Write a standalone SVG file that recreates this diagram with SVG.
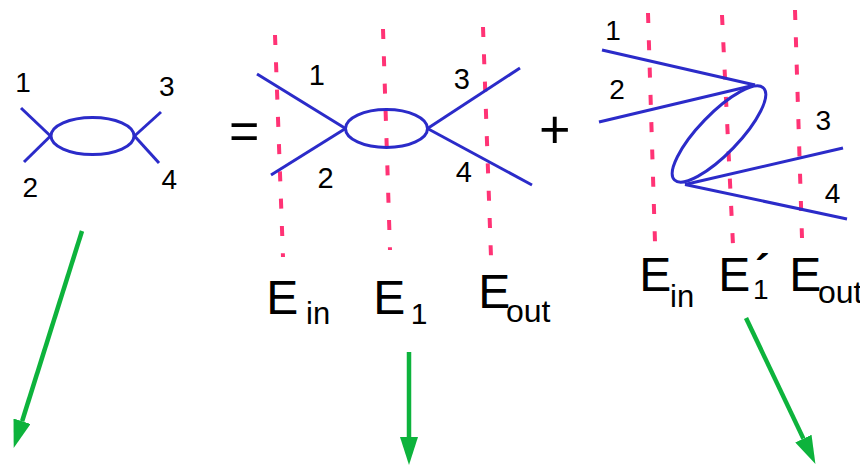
<svg xmlns="http://www.w3.org/2000/svg" width="860" height="465" viewBox="0 0 860 465">
<style>
.b{stroke:#2b2bc9;stroke-width:3;fill:none;stroke-linecap:butt}
.d{stroke:#ff3375;stroke-width:4;fill:none;stroke-dasharray:10 17.3}
.g{stroke:#0db33c;stroke-width:4.5;fill:none}
.t{font-family:"Liberation Sans",Arial,sans-serif;fill:#000}
.n{font-size:28px}
.e{font-size:48px}
.s{font-size:31px}
</style>
<defs>
<marker id="ah" markerUnits="userSpaceOnUse" markerWidth="28" markerHeight="18" refX="0" refY="9" orient="auto" viewBox="0 0 28 18">
<path d="M0,0 L28,9 L0,18 z" fill="#0db33c"/>
</marker>
</defs>
<g id="left-diagram">
<line class="b" x1="21" y1="108" x2="50.5" y2="136"/>
<line class="b" x1="24" y1="162" x2="50.5" y2="136"/>
<line class="b" x1="161" y1="112" x2="134.5" y2="136"/>
<line class="b" x1="159" y1="163" x2="134.5" y2="136"/>
<ellipse class="b" cx="92.5" cy="136" rx="41.5" ry="18.5"/>
<text class="t n" x="15.2" y="92">1</text>
<text class="t n" x="159" y="95.5">3</text>
<text class="t n" x="22.5" y="197">2</text>
<text class="t n" x="161.4" y="188.5">4</text>
</g>
<text id="equals" class="t" x="229" y="149" font-size="52">=</text>
<g id="middle-diagram">
<line class="d" x1="275" y1="35" x2="283" y2="257"/>
<line class="d" x1="383" y1="29" x2="390" y2="250"/>
<line class="d" x1="483" y1="27" x2="491" y2="257"/>
<line class="b" x1="257" y1="74" x2="345.5" y2="128.5"/>
<line class="b" x1="271" y1="175" x2="345.5" y2="128.5"/>
<line class="b" x1="520" y1="68" x2="427.5" y2="128.5"/>
<line class="b" x1="532" y1="185" x2="427.5" y2="128.5"/>
<ellipse class="b" cx="386.5" cy="128.5" rx="41" ry="19"/>
<text class="t" font-size="29" x="308.8" y="85">1</text>
<text class="t" font-size="29" x="453.8" y="89">3</text>
<text class="t" font-size="29" x="317.5" y="188.3">2</text>
<text class="t" font-size="29" x="455.7" y="182.3">4</text>
<text class="t e" x="266.2" y="314">E</text>
<text class="t s" x="306" y="324">in</text>
<text class="t e" x="373.2" y="314">E</text>
<text class="t" font-size="30" x="410.7" y="324">1</text>
<text class="t e" x="478.2" y="308">E</text>
<text class="t" font-size="32" x="506" y="322">out</text>
</g>
<text id="plus" class="t" x="539" y="148" font-size="54">+</text>
<g id="right-diagram">
<line class="d" x1="648" y1="13" x2="655" y2="242"/>
<line class="d" x1="722" y1="15" x2="733" y2="245"/>
<line class="d" x1="795" y1="10" x2="802" y2="238"/>
<line class="b" x1="602" y1="50" x2="755" y2="85"/>
<line class="b" x1="599" y1="122" x2="755" y2="85"/>
<line class="b" x1="685" y1="184.5" x2="843" y2="148"/>
<line class="b" x1="685" y1="184.5" x2="847" y2="219"/>
<ellipse class="b" cx="719" cy="134" rx="64" ry="20" transform="rotate(-46 719 134)"/>
<text class="t n" x="605.2" y="40">1</text>
<text class="t n" x="609.2" y="99">2</text>
<text class="t n" x="815.5" y="130">3</text>
<text class="t n" x="824.7" y="203.3">4</text>
<text class="t e" x="639.2" y="291">E</text>
<text class="t s" x="670" y="307">in</text>
<text class="t e" x="718.2" y="291">E</text>
<text class="t n" x="753" y="299">1</text>
<text class="t" font-size="44" font-weight="bold" x="755" y="286">´</text>
<text class="t e" x="789.2" y="291">E</text>
<text class="t" font-size="32" x="818" y="303">out</text>
</g>
<g id="connectors">
<line class="g" x1="82" y1="231" x2="22.1" y2="421.2" marker-end="url(#ah)"/>
<line class="g" x1="409" y1="352" x2="409" y2="437" marker-end="url(#ah)"/>
<line class="g" x1="746" y1="318" x2="803.4" y2="438.6" marker-end="url(#ah)"/>
</g>
</svg>
